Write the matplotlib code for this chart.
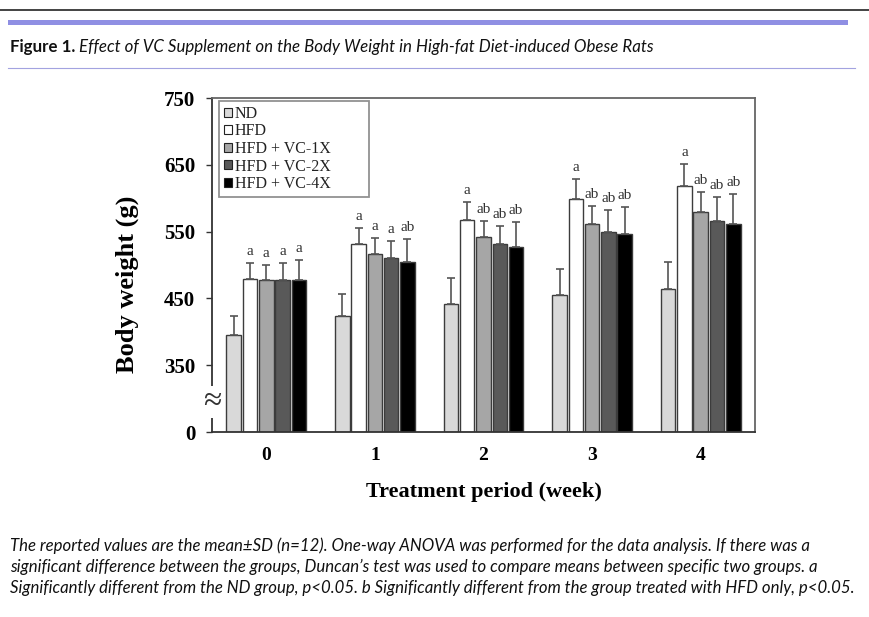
import matplotlib
matplotlib.use('Agg')
import matplotlib.pyplot as plt
from matplotlib.patches import Rectangle
from matplotlib.lines import Line2D
import numpy as np

# data (g)
weeks = ['0', '1', '2', '3', '4']
groups = ['ND', 'HFD', 'HFD + VC-1X', 'HFD + VC-2X', 'HFD + VC-4X']
colors = ['#d9d9d9', '#ffffff', '#a6a6a6', '#595959', '#000000']

nd  = [395, 424, 442, 455, 464]
hfd = [479, 532, 568, 599, 619]
vc1 = [478, 516, 542, 562, 579]
vc2 = [478, 510, 531, 550, 566]
vc4 = [477, 505, 527, 546, 562]

nd_sd  = [29, 33, 38, 39, 41]
hfd_sd = [24, 24, 27, 30, 32]
vc1_sd = [22, 24, 24, 27, 30]
vc2_sd = [25, 26, 28, 33, 36]
vc4_sd = [30, 34, 37, 41, 45]

nd_sig  = ['', '', '', '', '']
hfd_sig = ['a', 'a', 'a', 'a', 'a']
vc1_sig = ['a', 'a', 'ab', 'ab', 'ab']
vc2_sig = ['a', 'a', 'ab', 'ab', 'ab']
vc4_sig = ['a', 'ab', 'ab', 'ab', 'ab']

means = [nd, hfd, vc1, vc2, vc4]
sds = [nd_sd, hfd_sd, vc1_sd, vc2_sd, vc4_sd]
sigs = [nd_sig, hfd_sig, vc1_sig, vc2_sig, vc4_sig]

yticks = [250, 350, 450, 550, 650, 750]
ytick_labels = ['0', '350', '450', '550', '650', '750']
base = 250  # axis is broken, bottom labelled 0

title_bold = 'Figure 1.'
title_rest = ' Effect of VC Supplement on the Body Weight in High-fat Diet-induced Obese Rats'
caption = [
    'The reported values are the mean\u00b1SD (n=12). One-way ANOVA was performed for the data analysis. If there was a',
    'significant difference between the groups, Duncan\u2019s test was used to compare means between specific two groups. a',
    'Significantly different from the ND group, p<0.05. b Significantly different from the group treated with HFD only, p<0.05.',
]

W, H = 869, 617
serif = ['Liberation Serif', 'DejaVu Serif']
sans = ['Lato', 'DejaVu Sans']

fig = plt.figure(figsize=(W / 100, H / 100), dpi=100)
fig.patch.set_facecolor('white')

# page decorations
fig.add_artist(Line2D([0, 1], [1 - 10 / H, 1 - 10 / H], transform=fig.transFigure, color='#222222', lw=1.2))
fig.add_artist(Rectangle((8 / W, 1 - 25 / H), 840 / W, 5 / H, transform=fig.transFigure,
                         facecolor='#8f8fe3', edgecolor='none'))
fig.add_artist(Line2D([8 / W, 855 / W], [1 - 68 / H, 1 - 68 / H], transform=fig.transFigure,
                      color='#a3a3e0', lw=0.8))

ax = fig.add_axes([212 / W, 1 - 432 / H, 543 / W, 334 / H])

x = np.arange(len(weeks))
pitch = 0.15
bw = 0.133
for i in range(len(groups)):
    off = (i - 2) * pitch
    m = np.array(means[i])
    ax.bar(x + off, m - base, bottom=base, width=bw, color=colors[i],
           edgecolor='#3c3c3c', linewidth=1.0, label=groups[i], zorder=2)
    ax.errorbar(x + off, m, yerr=[np.zeros(len(m)), sds[i]], fmt='none',
                ecolor='#555555', elinewidth=1.2, capsize=3, capthick=1.2, zorder=3)
    for j in range(len(weeks)):
        if sigs[i][j]:
            ax.annotate(sigs[i][j], (x[j] + off, m[j] + sds[i][j]), xytext=(0, 3.5),
                        textcoords='offset points', ha='center', va='bottom',
                        fontsize=11, family=serif, color='#333333')

ax.set_xlim(-0.5, 4.5)
ax.set_ylim(250, 750)
ax.set_yticks(yticks)
ax.set_yticklabels(ytick_labels, fontsize=15, fontweight='bold', family=serif)
ax.set_xticks(x)
ax.set_xticklabels(weeks, fontsize=14, fontweight='bold', family=serif)
ax.tick_params(axis='y', direction='out', length=4, width=1.0, pad=8, color='#333333')
ax.tick_params(axis='x', length=0, pad=11)
for s in ['left', 'bottom']:
    ax.spines[s].set_color('#333333')
    ax.spines[s].set_linewidth(1.3)
for s in ['top', 'right']:
    ax.spines[s].set_color('#666666')
    ax.spines[s].set_linewidth(1.3)

# axis break mark
ax.text(0, 0.09, '\u2248', transform=ax.transAxes, ha='center', va='center', fontsize=24,
        family=serif, color='#333333', bbox=dict(facecolor='white', edgecolor='none', pad=0.2))

fig.text(127 / W, 1 - 284 / H, 'Body weight (g)', rotation=90, ha='center', va='center',
         fontsize=19, fontweight='bold', family=serif)
fig.text(484 / W, 1 - 492 / H, 'Treatment period (week)', ha='center', va='center',
         fontsize=16, fontweight='bold', family=serif)

handles = [Rectangle((0, 0), 1, 1, facecolor=c, edgecolor='#222222', lw=0.8) for c in colors]
leg = ax.legend(handles, groups, loc='upper left', mode='expand',
                bbox_to_anchor=(7 / 543, 0, 150 / 543, 331 / 334),
                prop={'family': serif, 'size': 11.5}, handlelength=0.5, handleheight=0.5,
                handletextpad=0.2, labelspacing=0.1, borderpad=0.3, borderaxespad=0,
                fancybox=False, frameon=True)
leg.get_frame().set_edgecolor('#777777')
leg.get_frame().set_linewidth(1.3)
for t in leg.get_texts():
    t.set_color('#222222')

# header and caption text, fitted to their widths in the picture
fig.canvas.draw()
r = fig.canvas.get_renderer()

tb = fig.text(10 / W, 1 - 47 / H, title_bold, ha='left', va='center', fontsize=11,
              fontweight='bold', family=sans, color='#111111')
tr = fig.text(10 / W, 1 - 47 / H, title_rest, ha='left', va='center', fontsize=11,
              style='italic', family=sans, color='#111111')
w1 = tb.get_window_extent(r).width
w2 = tr.get_window_extent(r).width
k = 645 / (w1 + w2)
tb.set_fontsize(11 * k)
tr.set_fontsize(11 * k)
w1 = tb.get_window_extent(r).width
tr.set_x((10 + w1) / W)

caps = []
for i, line in enumerate(caption):
    caps.append(fig.text(10 / W, 1 - (546 + 21 * i) / H, line, ha='left', va='center',
                         fontsize=11, style='italic', family=sans, color='#111111'))
widest = max(c.get_window_extent(r).width for c in caps)
for c in caps:
    c.set_fontsize(11 * 845 / widest)

fig.savefig('out.png', dpi=100)
